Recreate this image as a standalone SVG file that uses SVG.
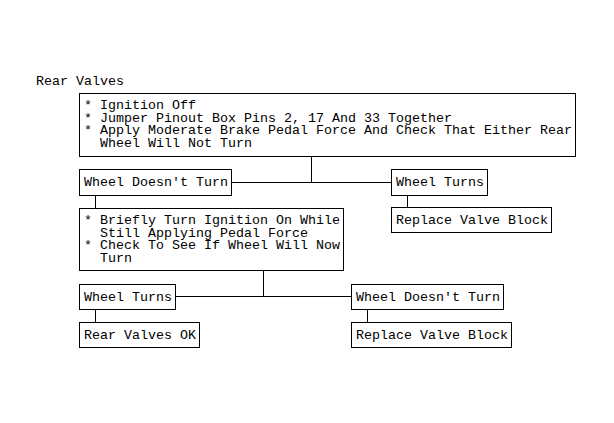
<svg xmlns="http://www.w3.org/2000/svg" width="614" height="423" viewBox="0 0 614 423">
<style>
rect.box{fill:#fff;stroke:#000;stroke-width:1}
text{font-family:"Liberation Mono","DejaVu Sans Mono",monospace;font-size:13.33px;fill:#000}
.conn line{stroke:#000;stroke-width:1}
</style>
<rect width="614" height="423" fill="#fff"/>
<text x="36" y="85">Rear Valves</text>
<g class="conn" id="connectors">
<line x1="311.5" y1="156.5" x2="311.5" y2="182.5"/>
<line x1="231.5" y1="182.5" x2="391.5" y2="182.5"/>
<line x1="95.5" y1="195.5" x2="95.5" y2="208.5"/>
<line x1="407.5" y1="195.5" x2="407.5" y2="207.5"/>
<line x1="263.5" y1="270.5" x2="263.5" y2="296.5"/>
<line x1="175.5" y1="296.5" x2="351.5" y2="296.5"/>
<line x1="95.5" y1="309.5" x2="95.5" y2="322.5"/>
<line x1="367.5" y1="309.5" x2="367.5" y2="322.5"/>
</g>
<g id="step1">
<rect class="box" x="79.5" y="93.5" width="496" height="63"/>
<text x="84" y="109"><tspan x="84" y="109">* Ignition Off</tspan><tspan x="84" y="121.7">* Jumper Pinout Box Pins 2, 17 And 33 Together</tspan><tspan x="84" y="134.4">* Apply Moderate Brake Pedal Force And Check That Either Rear</tspan><tspan x="100" y="147.1">Wheel Will Not Turn</tspan></text>
</g>
<g id="wdt1">
<rect class="box" x="79.5" y="169.5" width="152" height="26"/>
<text x="84" y="186">Wheel Doesn't Turn</text>
</g>
<g id="wt1">
<rect class="box" x="391.5" y="169.5" width="96" height="26"/>
<text x="396" y="186">Wheel Turns</text>
</g>
<g id="rvb1">
<rect class="box" x="391.5" y="207.5" width="160" height="25"/>
<text x="396" y="224">Replace Valve Block</text>
</g>
<g id="step2">
<rect class="box" x="79.5" y="208.5" width="264" height="62"/>
<text x="84" y="224"><tspan x="84" y="224">* Briefly Turn Ignition On While</tspan><tspan x="100" y="236.7">Still Applying Pedal Force</tspan><tspan x="84" y="249.4">* Check To See If Wheel Will Now</tspan><tspan x="100" y="262.1">Turn</tspan></text>
</g>
<g id="wt2">
<rect class="box" x="79.5" y="284.5" width="96" height="25"/>
<text x="84" y="300.5">Wheel Turns</text>
</g>
<g id="wdt2">
<rect class="box" x="351.5" y="284.5" width="152" height="25"/>
<text x="356" y="300.5">Wheel Doesn't Turn</text>
</g>
<g id="rvo">
<rect class="box" x="79.5" y="322.5" width="120" height="25"/>
<text x="84" y="338.5">Rear Valves OK</text>
</g>
<g id="rvb2">
<rect class="box" x="351.5" y="322.5" width="160" height="25"/>
<text x="356" y="338.5">Replace Valve Block</text>
</g>
</svg>
